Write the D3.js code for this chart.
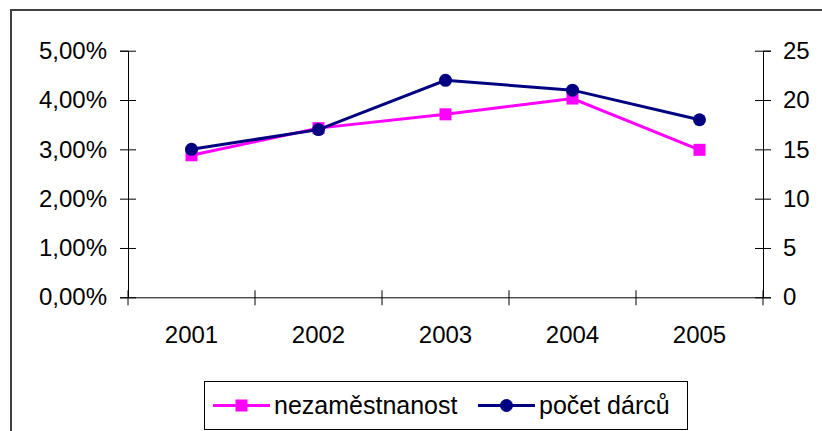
<!DOCTYPE html>
<html>
<head>
<meta charset="utf-8">
<script src="https://cdn.jsdelivr.net/npm/d3@7"></script>
<style>
    body { margin: 0; background: #fff; }
    svg { display: block; font-family: "Liberation Sans", Arial, sans-serif; }
</style>
</head>
<body>
<svg id="drawing_region"></svg>
<script>
const years = ['2001', '2002', '2003', '2004', '2005'];
const unemployment = [2.88, 3.43, 3.71, 4.03, 2.99];   // %
const donors = [15, 17, 22, 21, 18];
const leftTicks = [0, 1, 2, 3, 4, 5];
const rightTicks = [0, 5, 10, 15, 20, 25];
const seriesNames = ['nezaměstnanost', 'počet dárců'];

var config = {
    parent: '#drawing_region',
    width: 822,
    height: 431,
    margin: { top: 50.7, right: 59, bottom: 133.7, left: 128 }
};

class DualLineChart {

    constructor(config) {
        this.config = config;
        this.init();
    }

    init() {
        let self = this;
        let m = self.config.margin;

        self.svg = d3.select(self.config.parent)
            .attr('width', self.config.width)
            .attr('height', self.config.height);

        self.inner_width = self.config.width - m.left - m.right;
        self.inner_height = self.config.height - m.top - m.bottom;

        self.xscale = d3.scaleBand()
            .domain(years)
            .range([0, self.inner_width]);

        self.yleft = d3.scaleLinear()
            .domain([0, 5])
            .range([self.inner_height, 0]);

        self.yright = d3.scaleLinear()
            .domain([0, 25])
            .range([self.inner_height, 0]);

        const cz = d3.formatLocale({ decimal: ',', thousands: ' ', grouping: [3], currency: ['', ' Kč'] });
        self.pct = d => cz.format('.2f')(d) + '%';

        // outer frame
        self.svg.append('rect')
            .attr('x', 11).attr('y', 10)
            .attr('width', 830).attr('height', 440)
            .attr('fill', 'none')
            .attr('stroke', '#404040')
            .attr('stroke-width', 2);

        self.chart = self.svg.append('g')
            .attr('transform', `translate(${m.left}, ${m.top})`);
    }

    render() {
        let self = this;
        const fs = 24;

        // x axis: labels at band centers, ticks at band edges
        const xaxis = self.chart.append('g')
            .attr('transform', `translate(0, ${self.inner_height})`)
            .call(d3.axisBottom(self.xscale).tickSize(0).tickPadding(29));
        xaxis.select('.domain').attr('stroke', '#000');
        xaxis.selectAll('text').attr('font-size', fs).attr('font-family', null).attr('fill', '#000');

        const edges = years.map(d => self.xscale(d)).concat([self.xscale.range()[1]]);
        xaxis.selectAll('.edge')
            .data(edges)
            .enter()
            .append('line')
            .attr('x1', d => d).attr('x2', d => d)
            .attr('y1', -7).attr('y2', 8)
            .attr('stroke', '#000');

        // left axis
        const la = self.chart.append('g')
            .call(d3.axisLeft(self.yleft).tickValues(leftTicks).tickFormat(self.pct).tickSize(8).tickPadding(13));
        la.selectAll('.tick line').attr('x1', 8).attr('stroke', '#000');
        la.select('.domain').attr('stroke', '#000');
        la.selectAll('text').attr('font-size', fs).attr('font-family', null).attr('fill', '#000');

        // right axis
        const ra = self.chart.append('g')
            .attr('transform', `translate(${self.inner_width}, 0)`)
            .call(d3.axisRight(self.yright).tickValues(rightTicks).tickSize(8).tickPadding(12));
        ra.selectAll('.tick line').attr('x1', -8).attr('stroke', '#000');
        ra.select('.domain').attr('stroke', '#000');
        ra.selectAll('text').attr('font-size', fs).attr('font-family', null).attr('fill', '#000');

        const cx = (d, i) => self.xscale(years[i]) + self.xscale.bandwidth() / 2;

        // unemployment line (left axis)
        const line1 = d3.line().x(cx).y(d => self.yleft(d));
        self.chart.append('path')
            .datum(unemployment)
            .attr('d', line1)
            .attr('fill', 'none')
            .attr('stroke', '#ff00ff')
            .attr('stroke-width', 3);
        self.chart.selectAll('.sq')
            .data(unemployment)
            .enter()
            .append('rect')
            .attr('x', (d, i) => cx(d, i) - 6)
            .attr('y', d => self.yleft(d) - 6)
            .attr('width', 12).attr('height', 12)
            .attr('fill', '#ff00ff');

        // donors line (right axis)
        const line2 = d3.line().x(cx).y(d => self.yright(d));
        self.chart.append('path')
            .datum(donors)
            .attr('d', line2)
            .attr('fill', 'none')
            .attr('stroke', '#000080')
            .attr('stroke-width', 3);
        self.chart.selectAll('.dot')
            .data(donors)
            .enter()
            .append('circle')
            .attr('cx', cx)
            .attr('cy', d => self.yright(d))
            .attr('r', 6.5)
            .attr('fill', '#000080');

        // legend
        const lg = self.svg.append('g');
        lg.append('rect')
            .attr('x', 204.5).attr('y', 381.5)
            .attr('width', 483).attr('height', 48)
            .attr('fill', '#fff')
            .attr('stroke', '#000');
        const ly = 405.5;
        const items = [
            { name: seriesNames[0], color: '#ff00ff', x0: 213, marker: 'sq', tx: 274 },
            { name: seriesNames[1], color: '#000080', x0: 478, marker: 'dot', tx: 539 }
        ];
        items.forEach(it => {
            lg.append('line')
                .attr('x1', it.x0).attr('x2', it.x0 + 57)
                .attr('y1', ly).attr('y2', ly)
                .attr('stroke', it.color).attr('stroke-width', 3);
            if (it.marker === 'sq') {
                lg.append('rect')
                    .attr('x', it.x0 + 28.5 - 6).attr('y', ly - 6)
                    .attr('width', 12).attr('height', 12)
                    .attr('fill', it.color);
            } else {
                lg.append('circle')
                    .attr('cx', it.x0 + 28.5).attr('cy', ly)
                    .attr('r', 6.5).attr('fill', it.color);
            }
            lg.append('text')
                .attr('x', it.tx).attr('y', ly)
                .attr('dy', '0.35em')
                .attr('font-size', 25)
                .attr('fill', '#000')
                .text(it.name);
        });
    }
}

const chart = new DualLineChart(config);
chart.render();
</script>
</body>
</html>
